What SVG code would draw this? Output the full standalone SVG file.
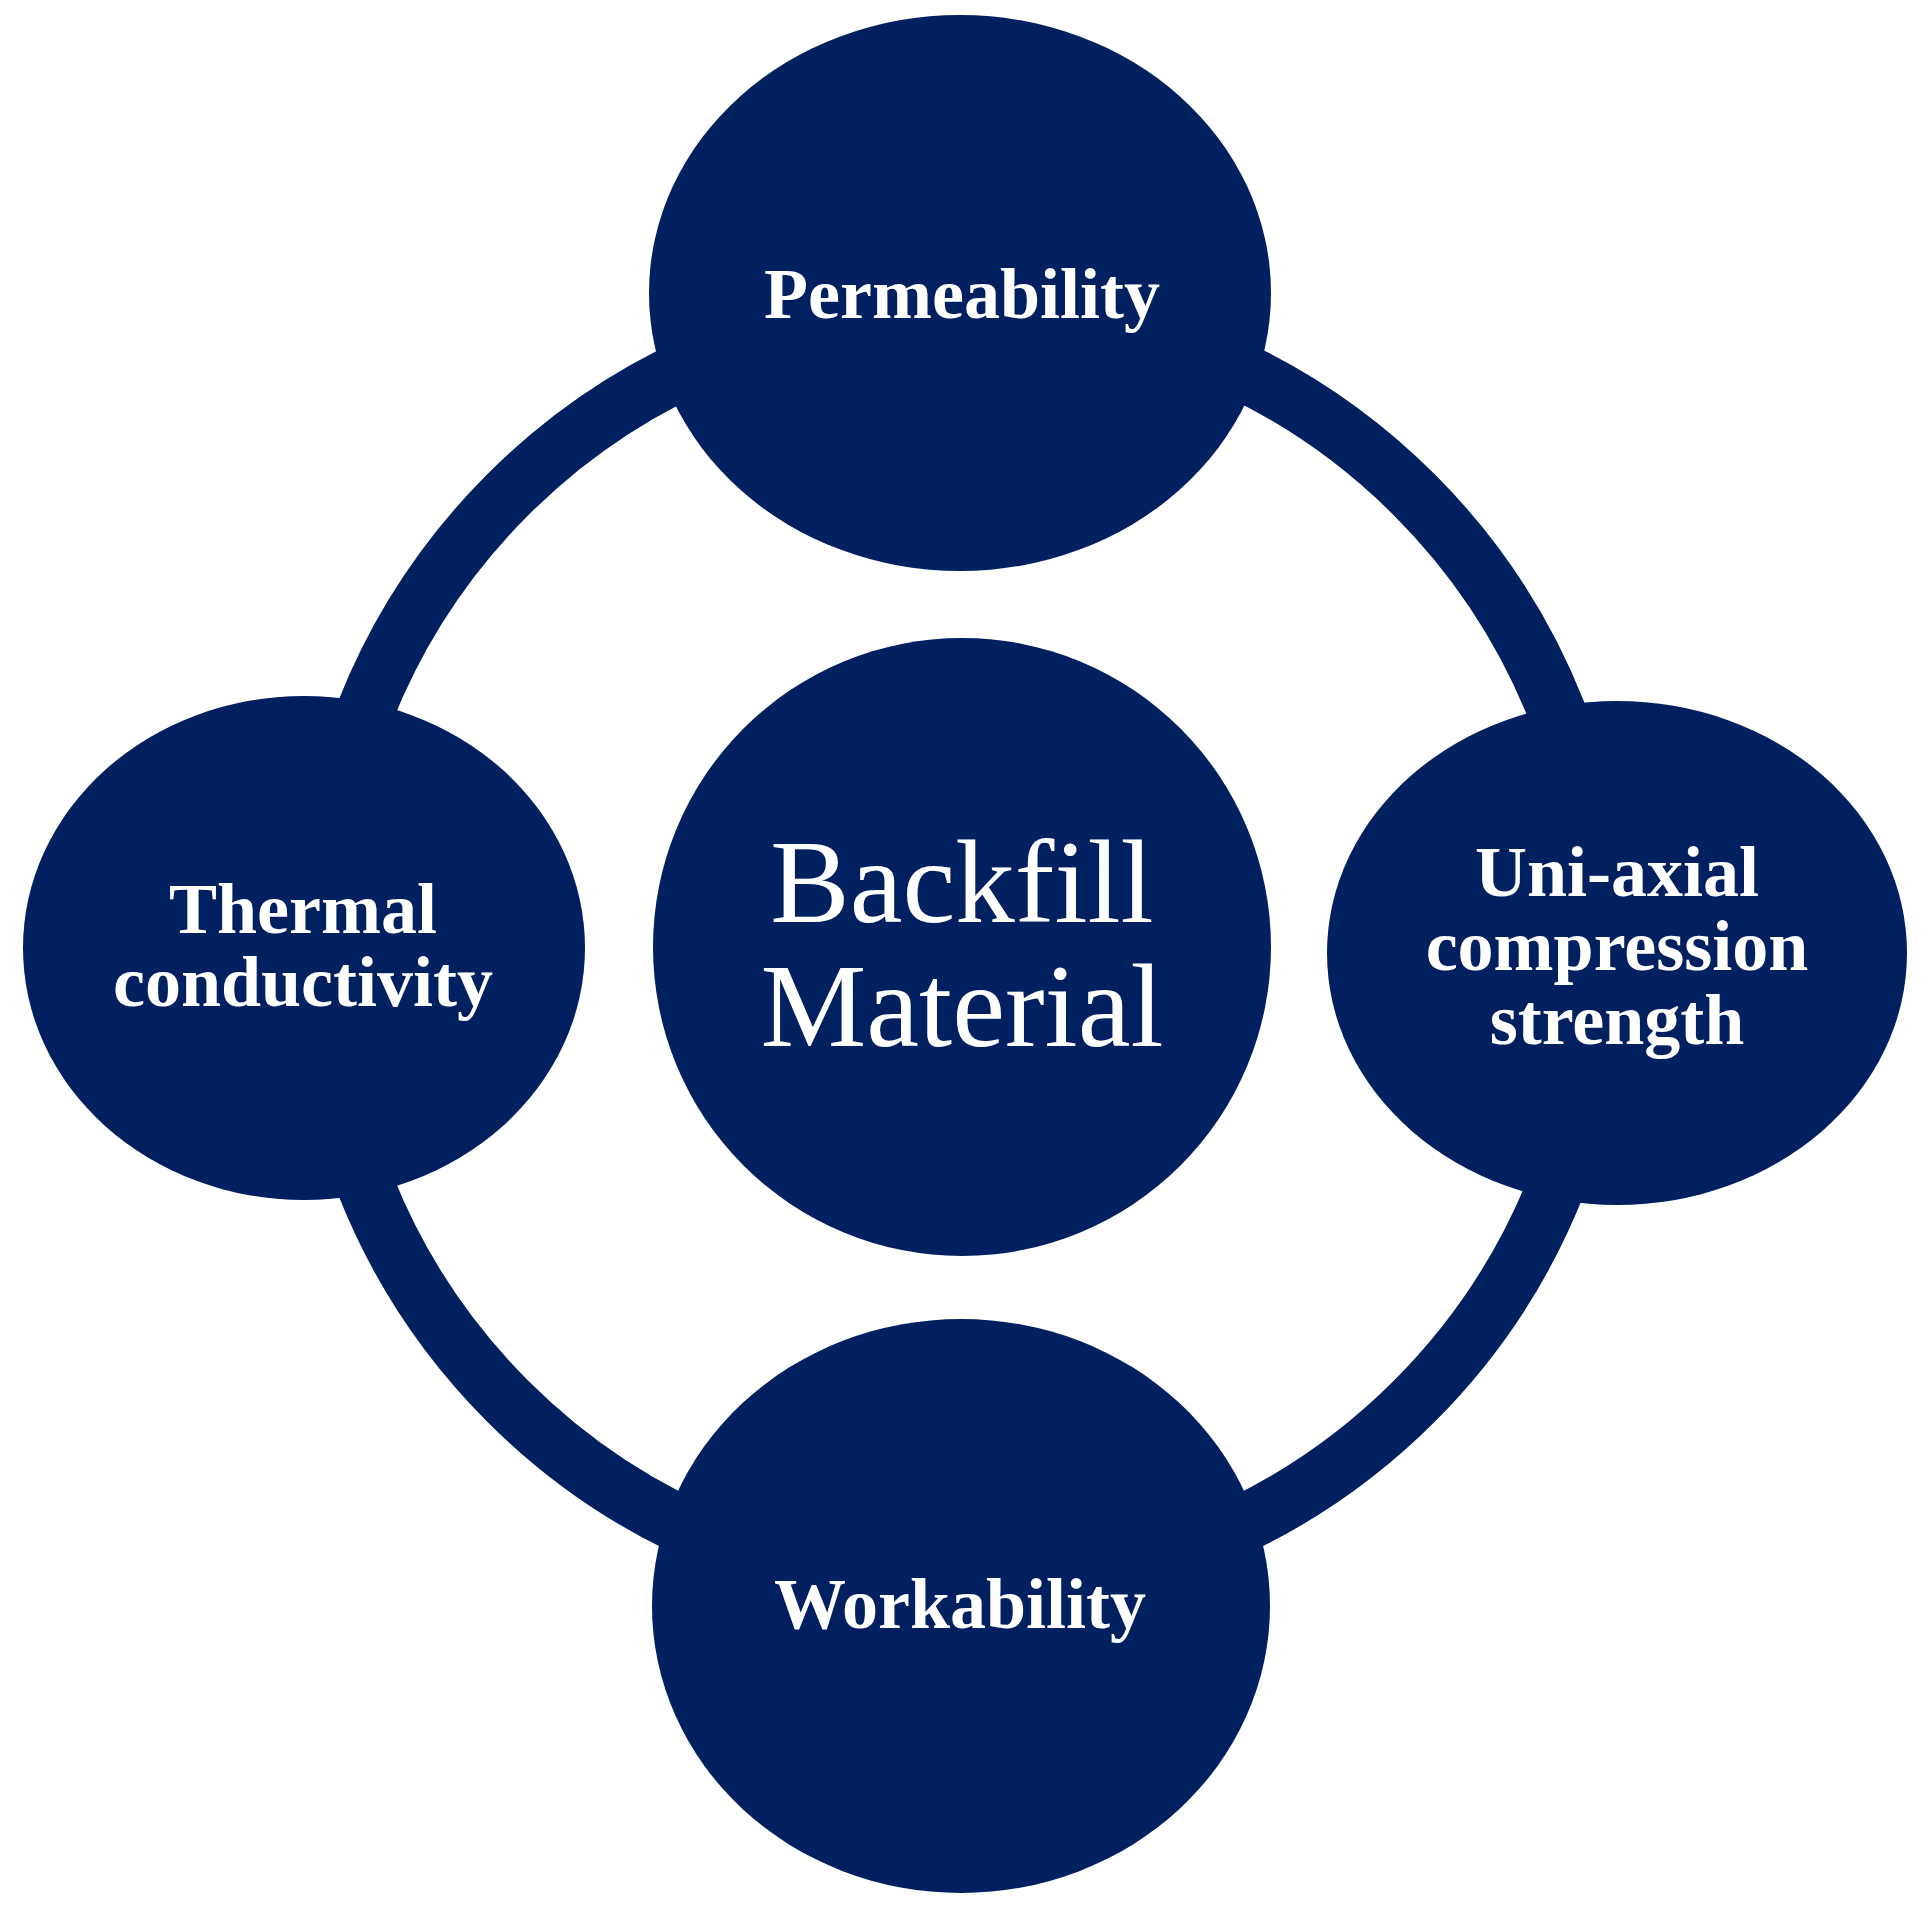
<svg xmlns="http://www.w3.org/2000/svg" width="1930" height="1906" viewBox="0 0 1930 1906">
<style>
.node{fill:#002060}
</style>
<rect width="1930" height="1906" fill="#ffffff"/>
<g id="connectors">
<circle cx="961" cy="948" r="641" fill="none" stroke="#002060" stroke-width="58"/>
</g>
<g id="permeability">
<ellipse class="node" cx="960" cy="293" rx="311" ry="278"/>
<text x="962" y="318" fill="#ffffff" text-anchor="middle" font-family="Liberation Serif" font-size="72" font-weight="bold">Permeability</text>
</g>
<g id="thermal">
<ellipse class="node" cx="304" cy="948" rx="281" ry="252"/>
<text x="303" y="933" fill="#ffffff" text-anchor="middle" font-family="Liberation Serif" font-size="72" font-weight="bold">Thermal</text>
<text x="303" y="1006" fill="#ffffff" text-anchor="middle" font-family="Liberation Serif" font-size="72" font-weight="bold">conductivity</text>
</g>
<g id="backfill">
<circle class="node" cx="962" cy="947" r="309"/>
<text x="962" y="922" fill="#ffffff" text-anchor="middle" font-family="Liberation Serif" font-size="119">Backfill</text>
<text x="962" y="1046" fill="#ffffff" text-anchor="middle" font-family="Liberation Serif" font-size="119">Material</text>
</g>
<g id="uniaxial">
<ellipse class="node" cx="1617" cy="953" rx="290" ry="252"/>
<text x="1617" y="896" fill="#ffffff" text-anchor="middle" font-family="Liberation Serif" font-size="72" font-weight="bold">Uni-axial</text>
<text x="1617" y="970" fill="#ffffff" text-anchor="middle" font-family="Liberation Serif" font-size="72" font-weight="bold">compression</text>
<text x="1617" y="1044" fill="#ffffff" text-anchor="middle" font-family="Liberation Serif" font-size="72" font-weight="bold">strength</text>
</g>
<g id="workability">
<ellipse class="node" cx="961" cy="1606" rx="309" ry="287"/>
<text x="960" y="1628" fill="#ffffff" text-anchor="middle" font-family="Liberation Serif" font-size="72" font-weight="bold">Workability</text>
</g>
</svg>
